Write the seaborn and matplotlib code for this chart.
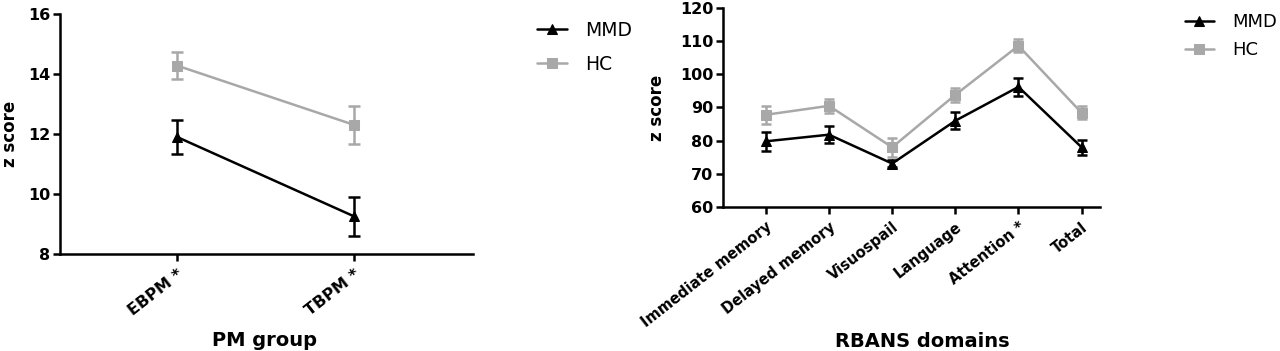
import numpy as np
import pandas as pd
import matplotlib
matplotlib.use('Agg')
import matplotlib.pyplot as plt
import seaborn as sns

sns.set_style("ticks")
plt.rcParams['font.family'] = ['DejaVu Sans']
plt.rcParams['text.color'] = 'black'
plt.rcParams['axes.labelcolor'] = 'black'
plt.rcParams['xtick.color'] = 'black'
plt.rcParams['ytick.color'] = 'black'
plt.rcParams['axes.edgecolor'] = 'black'

# PM group panel
pm_groups = ['EBPM *', 'TBPM *']
pm_mmd = [11.9, 9.25]
pm_mmd_err = [0.57, 0.65]
pm_hc = [14.28, 12.3]
pm_hc_err = [0.45, 0.62]

# RBANS panel
rbans_domains = ['Immediate memory', 'Delayed memory', 'Visuospail', 'Language', 'Attention *', 'Total']
rbans_mmd = [79.8, 81.8, 73.1, 86.0, 96.2, 78.0]
rbans_mmd_err = [2.9, 2.6, 1.0, 2.5, 2.8, 2.2]
rbans_hc = [87.8, 90.5, 78.0, 93.8, 108.6, 88.4]
rbans_hc_err = [2.7, 2.2, 2.8, 2.0, 2.0, 2.0]

GREY = '#a8a8a8'
groups = {'MMD': ('black', '^'), 'HC': (GREY, 's')}


def draw_panel(ax, cats, mmd, mmd_err, hc, hc_err, ms, cap, tick_fs):
    df = pd.DataFrame({
        'cat': cats * 2,
        'score': mmd + hc,
        'err': mmd_err + hc_err,
        'group': ['MMD'] * len(cats) + ['HC'] * len(cats),
    })
    df['x'] = list(range(len(cats))) * 2
    for g in ['HC', 'MMD']:
        sub = df[df['group'] == g]
        color, marker = groups[g]
        ax.errorbar(sub['x'], sub['score'], yerr=sub['err'], fmt='none',
                    ecolor=color, elinewidth=1.8, capsize=cap, capthick=1.8, zorder=2)
        sns.lineplot(data=sub, x='x', y='score', ax=ax, color=color, marker=marker,
                     markersize=ms, markeredgecolor=color, linewidth=1.8, label=g,
                     errorbar=None, zorder=3)
    ax.set_xticks(range(len(cats)))
    ax.set_xticklabels(cats, rotation=38, ha='right', rotation_mode='anchor',
                       fontsize=tick_fs, fontweight='bold')
    ax.tick_params(axis='y', labelsize=11.5, width=1.8, length=5, pad=2)
    ax.tick_params(axis='x', width=1.8, length=5, pad=4)
    for lab in ax.get_yticklabels():
        lab.set_fontweight('bold')
    for s in ['left', 'bottom']:
        ax.spines[s].set_linewidth(1.8)
    sns.despine(ax=ax)
    ax.get_legend().remove()


fig = plt.figure(figsize=(12.8, 3.51), dpi=100)
ax1 = fig.add_axes([0.0469, 0.2764, 0.3227, 0.6838])
ax2 = fig.add_axes([0.5648, 0.4103, 0.2945, 0.567])

draw_panel(ax1, pm_groups, pm_mmd, pm_mmd_err, pm_hc, pm_hc_err, ms=7.5, cap=4.3, tick_fs=11.5)
ax1.set_xlim(-0.66, 1.67)
ax1.set_ylim(8, 16)
ax1.set_yticks([8, 10, 12, 14, 16])
ax1.set_xlabel('PM group', fontsize=14, fontweight='bold')
ax1.xaxis.set_label_coords(0.496, -0.32)
ax1.set_ylabel('z score', fontsize=12, fontweight='bold')
ax1.yaxis.set_label_coords(-0.1, 0.5)

draw_panel(ax2, rbans_domains, rbans_mmd, rbans_mmd_err, rbans_hc, rbans_hc_err, ms=6.5, cap=3.5, tick_fs=10.5)
ax2.set_xlim(-0.68, 5.29)
ax2.set_ylim(60, 120)
ax2.set_yticks(range(60, 121, 10))
ax2.set_xlabel('RBANS domains', fontsize=14, fontweight='bold')
ax2.xaxis.set_label_coords(0.53, -0.628)
ax2.set_ylabel('z score', fontsize=12, fontweight='bold')
ax2.yaxis.set_label_coords(-0.15, 0.5)

handles, labels = ax1.get_legend_handles_labels()
order = [labels.index('MMD'), labels.index('HC')]
leg_h = [handles[i] for i in order]
leg_l = [labels[i] for i in order]
fig.legend(leg_h, leg_l, loc='upper left', bbox_to_anchor=(0.4195, 0.94),
           frameon=False, fontsize=13.5, handlelength=1.6, labelspacing=0.8,
           handletextpad=0.95, borderpad=0, borderaxespad=0)
fig.legend(leg_h, leg_l, loc='upper left', bbox_to_anchor=(0.9258, 0.963),
           frameon=False, fontsize=13, handlelength=1.6, labelspacing=0.55,
           handletextpad=1.0, borderpad=0, borderaxespad=0)

fig.savefig('out.png', dpi=100)
plt.close(fig)
